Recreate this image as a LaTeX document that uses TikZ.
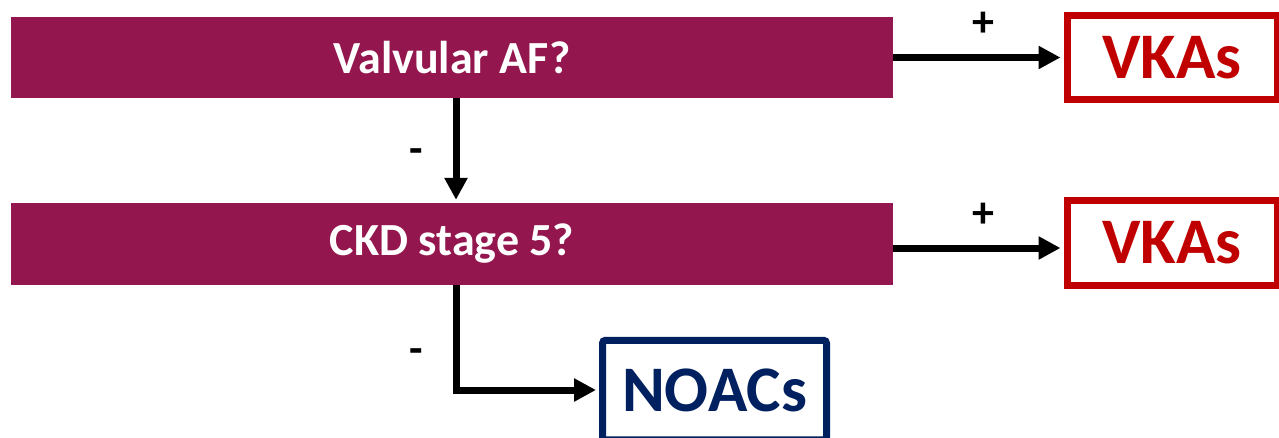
\documentclass[tikz,border=0pt]{standalone}
\usepackage{fontspec}
\setmainfont{Carlito}
\usepackage{xcolor}
\usetikzlibrary{arrows.meta, positioning, calc}
\definecolor{qmaroon}{HTML}{93174E}
\definecolor{vkared}{HTML}{C00000}
\definecolor{noacblue}{HTML}{002060}

\begin{document}
\begin{tikzpicture}[x=1pt, y=-1pt,
    question/.style={fill=qmaroon, text=white, inner sep=0pt,
        font=\fontsize{46}{50}\selectfont\bfseries,
        minimum width=882pt, minimum height=81pt},
    outcome/.style={draw, line width=7pt, fill=white, inner sep=0pt,
        font=\fontsize{65}{70}\selectfont\bfseries},
    flow/.style={line width=7pt, shorten >=3pt,
        -{Triangle[length=22pt,width=22pt]}},
    sign/.style={inner sep=0pt, font=\fontsize{44}{48}\selectfont\bfseries}]
\clip (0,0) rectangle (1279,437);

% Decision boxes
\node[question] (valv) at (452,57.5) {Valvular AF?};
\node[question, minimum height=82pt] (ckd) at (452,244) {CKD stage 5?};

% Outcomes
\node[outcome, draw=vkared, text=vkared, minimum width=210pt, minimum height=84pt]
    (vkaA) at (1172,57.5) {VKAs};
\node[outcome, draw=vkared, text=vkared, minimum width=210pt, minimum height=85pt]
    (vkaB) at (1172,243) {VKAs};
\node[outcome, draw=noacblue, text=noacblue, rounded corners=3pt,
    minimum width=224pt, minimum height=99.5pt] (noac) at (714.5,390) {NOACs};

% Yes branches
\draw[flow] (valv.east) -- (vkaA.west)
    node[sign, midway, xshift=5pt, yshift=33pt] {+};
\draw[flow] ([yshift=-4pt]ckd.east) -- ([yshift=-4pt]ckd.east -| vkaB.west)
    node[sign, midway, xshift=5pt, yshift=33pt] {+};

% No branches
\draw[flow] ([xshift=4pt]valv.south) -- ([xshift=4pt]valv.south |- ckd.north)
    node[sign, midway, xshift=-40pt, yshift=-6pt] {-};
\draw[flow] ([xshift=4pt]ckd.south) |- (noac.west)
    node[sign, pos=0.32, xshift=-40pt, yshift=-4pt] {-};
\end{tikzpicture}
\end{document}
